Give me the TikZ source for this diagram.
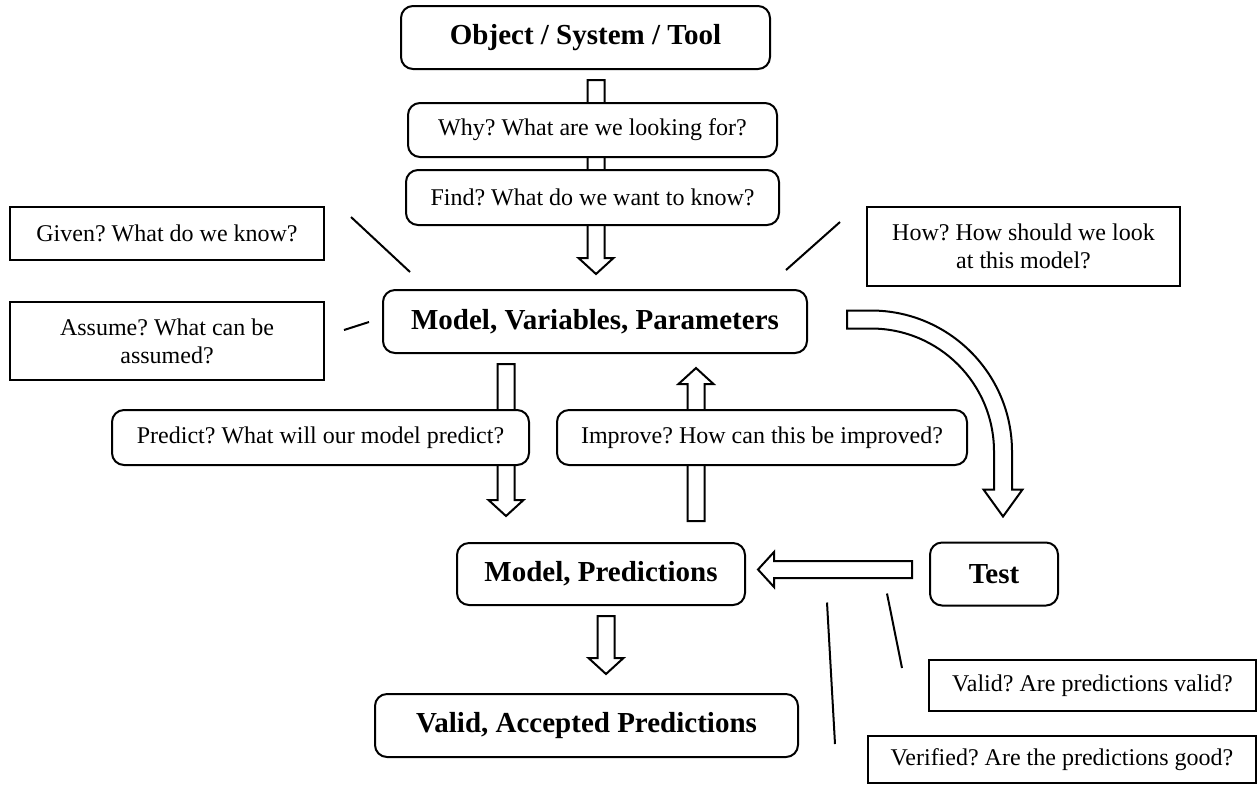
\documentclass[tikz,border=0pt]{standalone}
\usepackage{fontspec}
\setmainfont{Liberation Serif}
\usetikzlibrary{positioning,calc}
\pgfdeclarelayer{behind}
\pgfsetlayers{behind,main}
\frenchspacing

% hollow block arrow, tail #2, tip #3
\newcommand{\blockarrow}[3][]{%
  \coordinate (hb) at ($(#3)!8pt!(#2)$);
  \draw[hollow,#1] ($(#2)!4.25pt!90:(#3)$) -- ($(hb)!4.25pt!90:(#3)$) -- ($(hb)!8.75pt!90:(#3)$) -- (#3)
    -- ($(hb)!8.75pt!-90:(#3)$) -- ($(hb)!4.25pt!-90:(#3)$) -- ($(#2)!4.25pt!-90:(#3)$) -- cycle;}

\begin{document}
\begin{tikzpicture}[x=0.5pt, y=-0.5pt,
    every node/.style={font=\fontsize{12}{14}\selectfont},
    big/.style={rectangle, rounded corners=6pt, draw, line width=1pt, fill=white, font=\bfseries\fontsize{14.5}{17}\selectfont, minimum height=31.5pt},
    ask/.style={rectangle, rounded corners=6pt, draw, line width=1pt, fill=white, minimum height=27.5pt},
    note/.style={rectangle, draw, line width=1pt, fill=white, align=center},
    hollow/.style={draw, line width=1pt, fill=white, line join=miter},
    link/.style={line width=1pt}]
    \useasboundingbox (0,0) rectangle (1257,784);

    % main column
    \node[big, minimum width=184.5pt] (object) at (585.5,37.5) {Object / System / Tool};
    \node[ask, minimum width=184.5pt, minimum height=27pt] (why) at (592.5,130) {Why? What are we looking for?};
    \node[ask, minimum width=186.5pt, below=5.5pt of why] (find) {Find? What do we want to know?};
    \node[big, minimum width=212pt] (mvp) at (595,321.5) {Model, Variables, Parameters};

    % side questions
    \node[note, minimum width=157pt, minimum height=26.5pt] (given) at (167,233.5) {Given? What do we know?};
    \node[note, minimum width=157pt, minimum height=39pt, below=20pt of given] (assume) {Assume? What can be\\assumed?};
    \node[note, minimum width=156.5pt, minimum height=39.5pt] (how) at (1023.5,246.5) {How? How should we look\\at this model?};

    \draw[link] ($(given.east)+(26,-16.5)$) -- ($(mvp.north west)+(28,-17)$);
    \draw[link] ($(assume.east)+(19,-11)$) -- ($(mvp.west)+(-13,0.5)$);
    \draw[link] ($(how.west)+(-26,-24.5)$) -- ($(mvp.north east)+(-22,-19)$);

    % predict / improve
    \node[ask, minimum width=208.5pt] (predict) at (320.5,437.5) {Predict? What will our model predict?};
    \node[ask, minimum width=205pt, right=13pt of predict] (improve) {Improve? How can this be improved?};

    \node[big, minimum width=144pt, minimum height=31pt] (mp) at (601,574) {Model, Predictions};
    \node[big, minimum width=64pt, right=91.5pt of mp] (test) {Test};
    \node[big, minimum width=211.5pt] (vap) at (586.5,725.5) {Valid, Accepted Predictions};

    \node[note, minimum width=163.5pt, minimum height=25.5pt] (valid) at (1092.5,685.5) {Valid? Are predictions valid?};
    \node[note, minimum width=194pt, minimum height=23.5pt] (verified) at (1062,759.5) {Verified? Are the predictions good?};

    \draw[link] ($(test.south west)+(-42,-13)$) -- ($(valid.north west)+(-26,9)$);
    \draw[link] ($(test.south west)+(-102,-4)$) -- ($(verified.west)+(-32,-15.5)$);

    % block arrows
    \coordinate (a1) at ($(object.south)+(10.5,10)$);
    \coordinate (a2) at ($(mvp.north)+(1,-15)$);
    \coordinate (b1) at ($(mvp.south)+(-89,10)$);
    \coordinate (b2) at ($(mp.north)+(-95,-26)$);
    \coordinate (u1) at ($(mp.north)+(95,-21)$);
    \coordinate (u2) at ($(mvp.south)+(101,14)$);
    \coordinate (d1) at ($(mp.south)+(5,10)$);
    \coordinate (d2) at ($(vap.north)+(19.5,-19)$);
    \coordinate (l1) at ($(test.west)+(-17,-4.5)$);
    \coordinate (l0) at ($(mp.east)+(12,0)$);
    \coordinate (l2) at (l0 |- l1);
    \coordinate (c1) at ($(mvp.east)+(39,-2)$);
    \coordinate (c2) at ($(test.north)+(9,-25)$);
    \begin{pgfonlayer}{behind}
        \blockarrow{a1}{a2}
        \blockarrow{b1}{b2}
        \blockarrow{u1}{u2}
        \blockarrow{d1}{d2}
        \blockarrow{l1}{l2}
        \draw[hollow] let \p1=(c1), \p2=(c2) in
            (\x1,\y1+4.5pt) -- (\x1+12pt,\y1+4.5pt)
            arc[start angle=90, end angle=0, radius={\x2-\x1-7.5pt}]
            -- (\x2+4.5pt,\y2+13.5pt) -- (\x2+9.75pt,\y2+13.5pt) -- (\x2,\y2)
            -- (\x2-9.75pt,\y2+13.5pt) -- (\x2-4.5pt,\y2+13.5pt)
            -- (\x2-4.5pt,{\y1-(\x2-\x1-12pt)})
            arc[start angle=0, end angle=90, radius={\x2-\x1-16.5pt}]
            -- (\x1,\y1-4.5pt) -- cycle;
    \end{pgfonlayer}
\end{tikzpicture}
\end{document}
